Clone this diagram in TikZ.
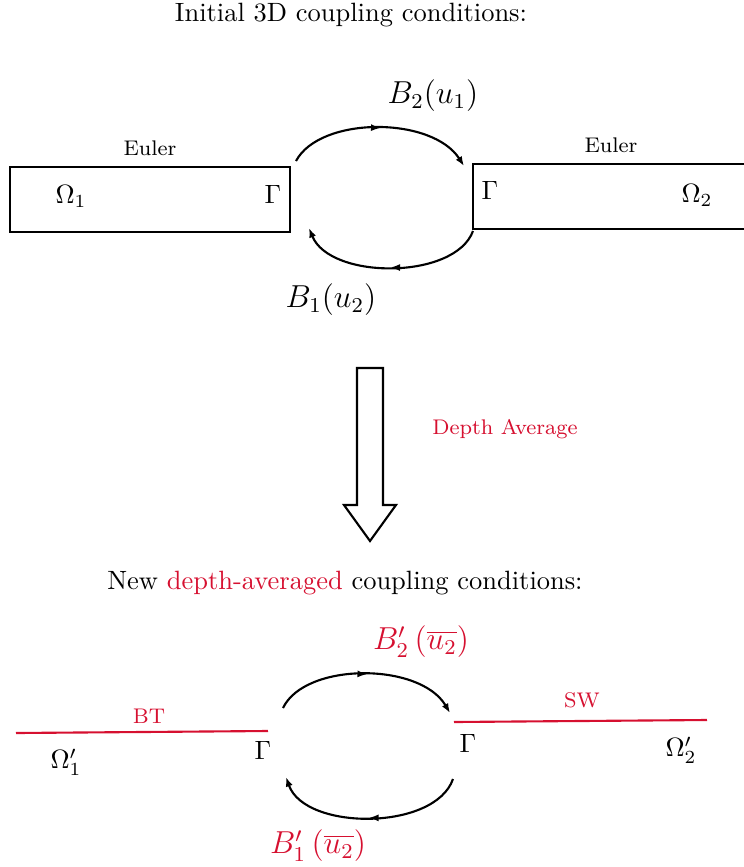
\documentclass[tikz,border=0pt]{standalone}
\usetikzlibrary{arrows.meta,decorations.markings}
\definecolor{dred}{RGB}{214,16,48}
\begin{document}
\begin{tikzpicture}[x=0.3778pt,y=-0.3778pt,
  mytip/.tip={Latex[length=3.6pt,width=2.7pt]},
  flow/.style={thick,-mytip,
    decoration={markings,mark=at position 0.5 with {\arrow{mytip}}},
    postaction={decorate}},
  domainbox/.style={draw,thick,rectangle,inner sep=0pt},
  small/.style={font=\footnotesize},
  lab/.style={font=\large},
  redline/.style={dred,thick}]
\useasboundingbox (0,0) rectangle (744,867);

% ---------- top part ----------
\node (title) at (351,15) {Initial 3D coupling conditions:};

\node[domainbox,minimum width=280*0.3778pt,minimum height=65*0.3778pt] (D1) at (150,199.5) {};
\draw[thick] (750,164) -- (473,164) -- (473,229) -- (750,229);
\coordinate (D2w) at (473,196);

\node[small] (e1) at (150,148) {Euler};
\node[small] (e2) at (611,145) {Euler};
\node (om1) at (71,196) {$\Omega_1$};
\node (g1) at (273,194) {$\Gamma$};
\node (g2) at (490,190) {$\Gamma$};
\node (om2) at (697,195) {$\Omega_2$};

\coordinate (a1s) at (296,161);
\coordinate (a1e) at (464,166);
\coordinate (a2s) at (473,231);
\coordinate (a2e) at (309,228);
\draw[flow] (a1s) .. controls (320,116) and (432,116) .. (a1e);
\draw[flow] (a2s) .. controls (455,280) and (330,280) .. (a2e);

\node[lab] (b2) at (433,96) {$B_2(u_1)$};
\node[lab] (b1) at (331,300) {$B_1(u_2)$};

% ---------- big arrow ----------
\draw[thick] (357,368) -- (383,368) -- (383,505) -- (396,505) -- (370,541)
   -- (344,505) -- (357,505) -- cycle;
\node[small,text=dred] (da) at (505,429) {Depth Average};

% ---------- bottom part ----------
\node (title2) at (345,583) {New \textcolor{dred}{depth-averaged} coupling conditions:};

\coordinate (l1a) at (16,733);
\coordinate (l1b) at (268,731);
\coordinate (l2a) at (454,722);
\coordinate (l2b) at (707,720);
\draw[redline] (l1a) -- (l1b);
\draw[redline] (l2a) -- (l2b);

\node[small,text=dred] (bt) at (149,716) {BT};
\node[small,text=dred] (sw) at (582,700) {SW};
\node (g3) at (263,750) {$\Gamma$};
\node (g4) at (468,743) {$\Gamma$};
\node (om1p) at (66,762) {$\Omega_1'$};
\node (om2p) at (681,750) {$\Omega_2'$};

\coordinate (c1s) at (283,708);
\coordinate (c1e) at (450,713);
\coordinate (c2s) at (453,779);
\coordinate (c2e) at (286,777);
\draw[flow] (c1s) .. controls (305,662) and (420,662) .. (c1e);
\draw[flow] (c2s) .. controls (435,831) and (305,831) .. (c2e);

\node[lab,text=dred] (b2p) at (421,642) {$B_2'\left(\overline{u_2}\right)$};
\node[lab,text=dred] (b1p) at (318,846) {$B_1'\left(\overline{u_2}\right)$};
\end{tikzpicture}
\end{document}
